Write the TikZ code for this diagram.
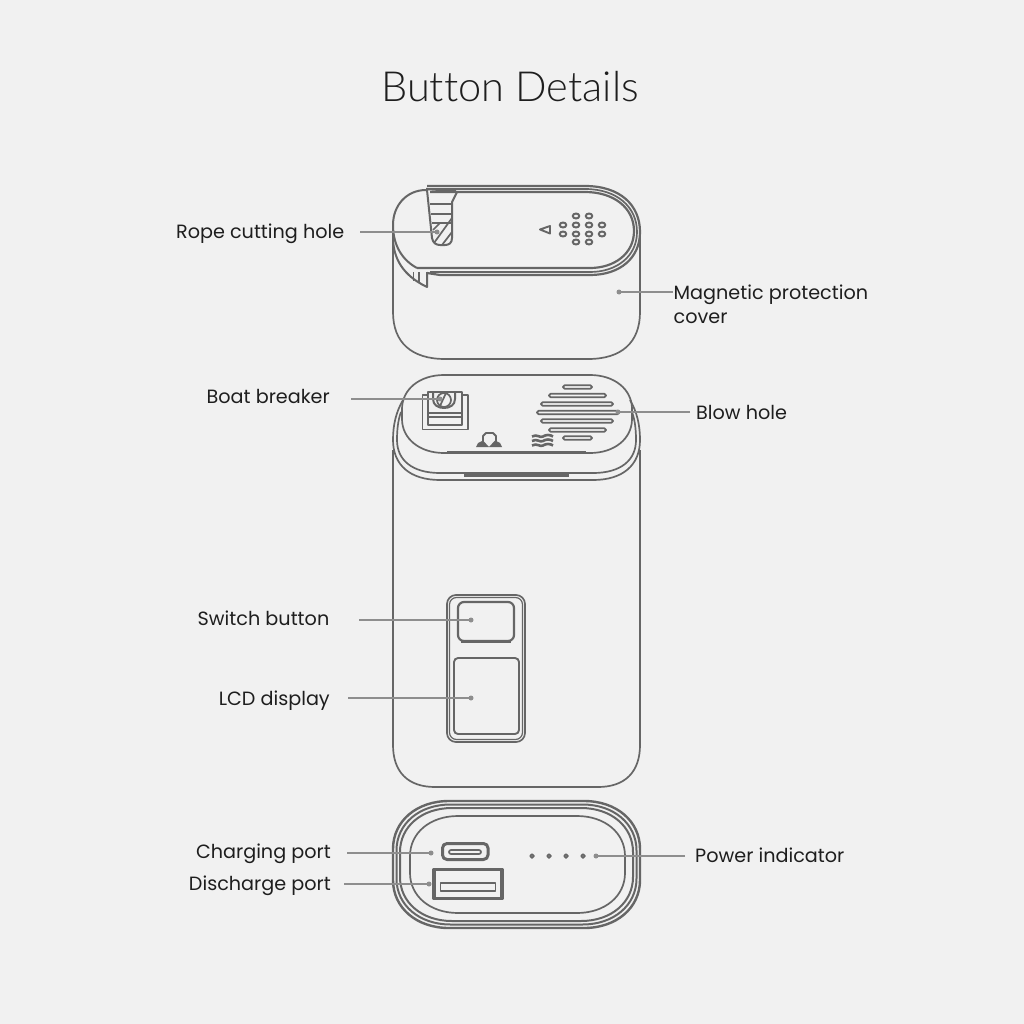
\documentclass[tikz,border=0pt]{standalone}
\usepackage{fontspec}
\setmainfont{Poppins}
\newfontfamily\titlefont{Lato Light}
\definecolor{bgc}{HTML}{F1F1F1}
\definecolor{ink}{HTML}{666666}
\definecolor{leader}{HTML}{8E8E8E}
\definecolor{txt}{HTML}{1E1E1E}
\newcommand{\sqpath}[6]{(#1+#5,#2) -- (#3-#5,#2) .. controls (#3-#5*0.42,#2) and (#3,#2+#6*0.42) .. (#3,#2+#6) -- (#3,#4-#6) .. controls (#3,#4-#6*0.42) and (#3-#5*0.42,#4) .. (#3-#5,#4) -- (#1+#5,#4) .. controls (#1+#5*0.42,#4) and (#1,#4-#6*0.42) .. (#1,#4-#6) -- (#1,#2+#6) .. controls (#1,#2+#6*0.42) and (#1+#5*0.42,#2) .. (#1+#5,#2) -- cycle}
\tikzset{
  ln/.style={draw=ink,line width=1.7pt},
  thin ln/.style={draw=ink,line width=1.2pt},
  heavy/.style={draw=ink,line width=3pt},
  lab/.style={text=txt,font=\fontsize{19.2}{24}\selectfont,inner sep=0pt,align=left},
  leaderline/.style={draw=leader,line width=1.3pt},
  enddot/.style={fill=leader,circle,minimum size=5pt,inner sep=0pt},
  spk/.style={draw=ink,line width=2pt,fill=none},
  pill/.style={draw=ink,line width=1.7pt,rounded corners=1.6pt},
}
\begin{document}
\begin{tikzpicture}[x=1pt,y=-1pt,line join=round]
\useasboundingbox (0,0) rectangle (1024,1024);
\fill[bgc] (0,0) rectangle (1024,1024);
\node[text=txt,font=\titlefont\fontsize{41.5}{46}\selectfont,inner sep=0pt] (title) at (510,87) {But\kern0pt ton Details};

% ---- cover ----
\draw[ln] (393,225) -- (393,312) .. controls (393,343) and (412,359) .. (445,359) -- (588,359)
  .. controls (621,359) and (640,343) .. (640,312) -- (640,235);
\draw[ln,line width=2.2pt] (427,186) -- (585,186) .. controls (620,186) and (640,205) .. (640,232)
  .. controls (640,258) and (620,275) .. (590,275) -- (440,275) -- (427,273);
\draw[ln] (427,189) -- (585,189) .. controls (617,189) and (637,207) .. (637,232)
  .. controls (637,256) and (617,272) .. (590,272) -- (430,272);
\draw[ln,line width=2.2pt] (430,192) -- (585,192) .. controls (614,192) and (634,208) .. (634,231)
  .. controls (634,254) and (614,268) .. (590,268) -- (417,268);
\draw[ln,line width=2pt] (426,190) .. controls (407,190) and (393,205) .. (393,225) .. controls (393,245) and (402,260) .. (417,268);
\draw[ln,line width=2pt] (393,240) .. controls (394,258) and (402,275) .. (427,287) -- (427,272);
\draw[ln] (413.5,272) -- (413.5,281) (419,272) -- (419,283);
% rope hole
\draw[ln,line width=2.2pt] (426,189) -- (456,191);
\draw[ln,line width=2pt] (427,190) -- (432,238) .. controls (433,243) and (436,245) .. (440,245)
  -- (445,245) .. controls (449,245) and (452,243) .. (452,238) -- (452,202) -- (457,192);
\draw[ln] (430,204) -- (452,204) (431,214) -- (452,214) (432,223) -- (452,223);
\draw[ln] (434,243) -- (452,218) (442,245) -- (452,232) (433,230) -- (440,223);
% speaker dots
\foreach \x/\y in {576/216,589/216,563/225,576/225,589/225,602/225,563/234,576/234,589/234,602/234,576/242,589/242}
  \draw[spk] (\x,\y) ellipse (3.3pt and 2.5pt);
\draw[ln,line width=1.9pt] (540,229.5) -- (550,226) -- (550,233.5) -- cycle;

% ---- main body ----
\draw[ln] (393,450) -- (393,745) .. controls (393,772) and (408,787) .. (435,787) -- (598,787)
  .. controls (625,787) and (640,772) .. (640,745) -- (640,450);
% collar
\draw[ln] (403,400) .. controls (396,412) and (393,425) .. (393,440) .. controls (393,465) and (410,480) .. (440,480)
  -- (593,480) .. controls (623,480) and (640,465) .. (640,440) .. controls (640,425) and (637,412) .. (630,400);
\draw[ln] (401,412) .. controls (398,420) and (397,430) .. (397,440) .. controls (397,460) and (412,473) .. (440,473)
  -- (593,473) .. controls (621,473) and (636,460) .. (636,440) .. controls (636,430) and (635,420) .. (632,412);
\draw[ln,line width=3pt] (464,475) -- (569,475);
% top plate
\draw[ln] \sqpath{402}{375}{632}{453}{42}{34};
\draw[ln,line width=2.4pt] (447,452.5) -- (586,452.5);
% breaker
\draw[ln,line width=1.9pt] (428,395) -- (422.5,395) -- (422.5,429.5) -- (468,429.5) -- (468,395) -- (462,395);
\draw[ln,line width=2.3pt] (428,392) -- (462,392) -- (462,425) -- (428,425) -- cycle;
\draw[ln] (428,413) -- (462,413) (428,417) -- (462,417);
\draw[ln,line width=2pt] (433,392) -- (433,399) .. controls (433,405) and (438,408) .. (444,408) .. controls (450,408) and (455,405) .. (455,399) -- (455,392);
\draw[ln] (444,400) circle (7pt);
\draw[ln] (440,406) -- (446,393);
% boat icon
\draw[ln,line width=1.9pt] (483,443) -- (483,436) -- (486,433) -- (493,433) -- (496,436) -- (496,443);
\fill[ink] (476,447) -- (478,443) -- (483,440.5) -- (489,447) -- cycle (489,447) -- (495,440.5) -- (500,443) -- (502,447) -- cycle;
% wave icon
\foreach \y in {436.5,441,445.5}
  \draw[ink,line width=2.6pt] (532,\y) .. controls (537,\y-3) and (540,\y+2) .. (543,\y) .. controls (546,\y-2) and (550,\y-2) .. (553,\y);
% blow slots
\foreach \a/\b/\y in {563/592/387,549/606/395.5,541/613/404,537/619/412.5,541/613/421,549/606/430,563/592/438}
  \draw[pill] (\a,\y-1.7) rectangle (\b,\y+1.7);
% switch panel
\draw[ln,rounded corners=9pt] (447,595) rectangle (525,742);
\draw[thin ln,rounded corners=7pt] (449.5,597.5) rectangle (522.5,739.5);
\draw[ln,line width=2.2pt,rounded corners=6pt] (458,602) rectangle (514,641);
\draw[ln,line width=3.2pt] (461,641.5) -- (511,641.5);
\draw[ln,line width=1.9pt,rounded corners=4pt] (454,658) rectangle (519,734);

% ---- bottom ----
\draw[ln,line width=2.4pt] \sqpath{393}{801}{640}{928}{56}{48};
\draw[ln,line width=2pt] \sqpath{396.5}{804.5}{636.5}{924.5}{54}{46};
\draw[ln,line width=2pt] \sqpath{400}{808}{633}{921}{52}{44};
\draw[ln] \sqpath{410}{816}{625}{913}{48}{40};
% ports
\draw[heavy,rounded corners=4.5pt] (442.5,843.5) rectangle (488,859.5);
\draw[ln,rounded corners=2pt] (449,850) rectangle (481,854);
\draw[heavy,line width=3.2pt,fill=bgc] (434,869.5) rectangle (502,898.5);
\draw[ln] (440.5,883) rectangle (495.5,891);
\foreach \x in {532,549,566,583}
  \draw[ink,line width=1.7pt] (\x,856) circle (1.9pt);

% ---- labels and connectors ----
\node[lab,anchor=base east] (l1) at (344.5,238) {Rope cutting hole};
\node[lab,anchor=north west] (l2) at (673.5,284.5) {Magnetic protection\\cover};
\node[lab,anchor=base east] (l3) at (330,403.5) {Boat breaker};
\node[lab,anchor=base west] (l4) at (696,419.5) {Blow hole};
\node[lab,anchor=base east] (l5) at (329.5,625.5) {Switch button};
\node[lab,anchor=base east] (l6) at (330,705.5) {LCD display};
\node[lab,anchor=base east] (l7) at (331,858.5) {Charging port};
\node[lab,anchor=base east] (l8) at (331,890.5) {Discharge port};
\node[lab,anchor=base west] (l9) at (695,862.5) {Power indicator};

\node[enddot] (d1) at (437,232) {};
\node[enddot] (d2) at (619,292) {};
\node[enddot] (d3) at (440,399) {};
\node[enddot] (d4) at (618,412) {};
\node[enddot] (d5) at (471,620) {};
\node[enddot] (d6) at (471,698) {};
\node[enddot] (d7) at (431,853) {};
\node[enddot] (d8) at (429,884) {};
\node[enddot] (d9) at (596,856) {};
\coordinate (c1) at (360,232);
\coordinate (c2) at (673,292);
\coordinate (c3) at (351,399);
\coordinate (c4) at (690,412);
\coordinate (c5) at (359,620);
\coordinate (c6) at (348,698);
\coordinate (c7) at (347,853);
\coordinate (c8) at (344,884);
\coordinate (c9) at (685,856);
\foreach \i in {1,...,9} \draw[leaderline] (c\i) -- (d\i.center);
\end{tikzpicture}
\end{document}
